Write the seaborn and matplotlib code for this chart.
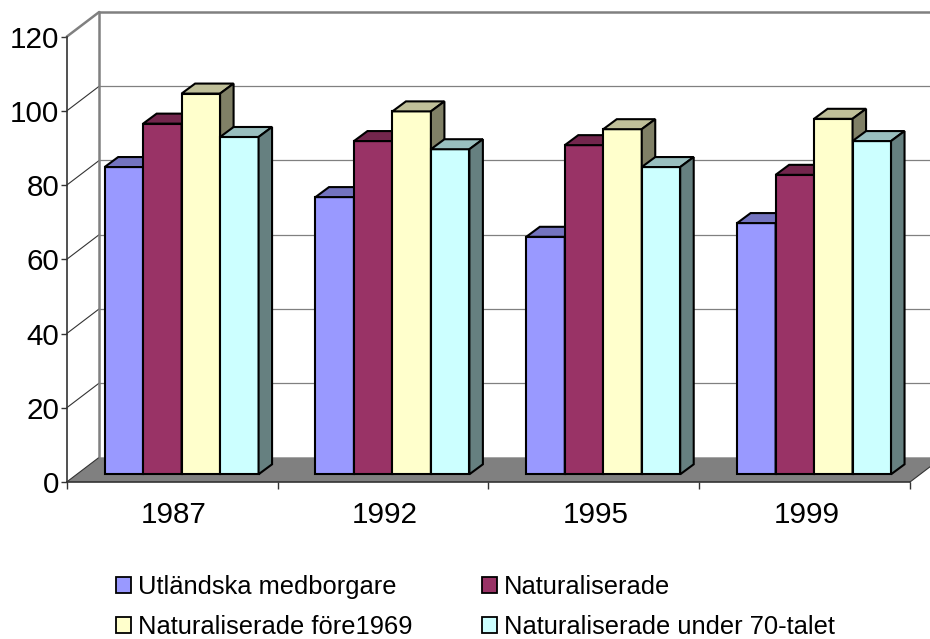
import pandas as pd
import matplotlib.pyplot as plt
import seaborn as sns
from matplotlib.patches import Patch, Polygon
from matplotlib.transforms import Affine2D, IdentityTransform
from matplotlib.lines import Line2D

# Data
years = ['1987', '1992', '1995', '1999']
utlandska = [82.8, 74.7, 64, 67.7]
naturaliserade = [94.5, 89.8, 88.7, 80.7]
fore_1969 = [102.6, 97.8, 93, 95.8]
under_70 = [90.9, 87.6, 82.8, 89.8]
series_names = ['Utländska medborgare', 'Naturaliserade',
                'Naturaliserade före1969', 'Naturaliserade under 70-talet']
y_ticks = [0, 20, 40, 60, 80, 100, 120]
colors = ['#9999FF', '#993366', '#FFFFCC', '#CCFFFF']

rows = []
for name, values in zip(series_names, [utlandska, naturaliserade, fore_1969, under_70]):
    for year, value in zip(years, values):
        rows.append({'year': year, 'series': name, 'value': value})
data = pd.DataFrame(rows)

sns.set_style('white')
plt.rcParams['font.family'] = ['Liberation Sans', 'DejaVu Sans']

W, H = 930, 639
fig = plt.figure(figsize=(W / 100, H / 100), dpi=100)
ax = fig.add_axes([66.7 / W, (H - 482) / H, (910 - 66.7) / W, 445.3 / H])

edge_lw = 1.5
sns.barplot(data=data, x='year', y='value', hue='series', order=years,
            hue_order=series_names, palette=colors, saturation=1, width=0.73,
            gap=0, edgecolor='black', linewidth=edge_lw, legend=False, ax=ax)
ax.set_xlim(-0.5, 3.5)
ax.set_ylim(0, 120)
ax.set_xlabel('')
ax.set_ylabel('')

# the bars seaborn drew, left to right
bars = sorted([p for c in ax.containers for p in c], key=lambda p: p.get_x())

# Pseudo 3D box: back wall, floor and left wall, in pixels offset from the front plane
wall_dx, wall_dy = 32.5, 24.7
to_px = ax.transData.transform
x0, x1 = -0.5, 3.5
grey = '#808080'
dark = '#333333'
px = IdentityTransform()


def wall_line(p, q, color, lw):
    ax.add_line(Line2D([p[0], q[0]], [p[1], q[1]], color=color, lw=lw,
                       transform=px, clip_on=False, zorder=0.6))


floor = [to_px((x0, 0)), to_px((x1, 0)),
         to_px((x1, 0)) + (wall_dx, wall_dy), to_px((x0, 0)) + (wall_dx, wall_dy)]
ax.add_patch(Polygon(floor, closed=True, facecolor=grey, edgecolor='none',
                     transform=px, clip_on=False, zorder=0.5))

for t in y_ticks:
    start = to_px((x0, t))
    back = start + (wall_dx, wall_dy)
    end = to_px((x1, t)) + (wall_dx, wall_dy)
    is_top = t == 120
    if t > 0:
        wall_line(back, end, grey, 1.8 if is_top else 0.9)
    wall_line(start, back, grey if is_top else dark, 1.8 if is_top else 0.8)

wall_line(to_px((x0, 0)) + (wall_dx, wall_dy), to_px((x0, 120)) + (wall_dx, wall_dy), grey, 1.8)
wall_line(to_px((x1, 0)), to_px((x1, 0)) + (wall_dx, wall_dy), dark, 0.8)


def shade(color, factor):
    r, g, b = plt.matplotlib.colors.to_rgb(color)
    return (r * factor, g * factor, b * factor)


# Bars stand a little inside the floor; add top and side faces
shift_x, shift_y = 9.5, 7.7
depth_x, depth_y = 13.5, 10
bar_shift = Affine2D().translate(shift_x, shift_y)

for i, bar in enumerate(bars):
    z = 3 + i * 0.01
    face = bar.get_facecolor()
    bar.set_transform(ax.transData + bar_shift)
    bar.set_clip_on(False)
    bar.set_zorder(z)
    br = to_px((bar.get_x() + bar.get_width(), 0)) + (shift_x, shift_y)
    tl = to_px((bar.get_x(), bar.get_height())) + (shift_x, shift_y)
    tr = to_px((bar.get_x() + bar.get_width(), bar.get_height())) + (shift_x, shift_y)
    d = (depth_x, depth_y)
    ax.add_patch(Polygon([tl, tr, tr + d, tl + d], closed=True, facecolor=shade(face, 0.75),
                         edgecolor='black', linewidth=edge_lw, transform=px,
                         clip_on=False, zorder=z))
    ax.add_patch(Polygon([br, tr, tr + d, br + d], closed=True, facecolor=shade(face, 0.5),
                         edgecolor='black', linewidth=edge_lw, transform=px,
                         clip_on=False, zorder=z))

# Axes and ticks
sns.despine(ax=ax)
for side in ['left', 'bottom']:
    ax.spines[side].set_color(dark)
    ax.spines[side].set_linewidth(1.2)
    ax.spines[side].set_zorder(1)
ax.set_yticks(y_ticks)
ax.set_xticks([-0.5, 0.5, 1.5, 2.5, 3.5], minor=False, labels=['', '', '', '', ''])
ax.tick_params(axis='y', left=True, length=4, width=1.0, color=dark, labelsize=21.3,
               pad=1.5, labelcolor='black')
ax.tick_params(axis='x', bottom=True, length=5, width=1.0, color=dark)
for i, year in enumerate(years):
    ax.annotate(year, xy=(i, 0), xytext=(2, -33), textcoords='offset pixels', ha='center',
                va='center', fontsize=21.3, color='black', annotation_clip=False)

# Legend, read row by row in the picture
handles = [Patch(facecolor=c, edgecolor='black', linewidth=1.3) for c in colors]
order = [0, 2, 1, 3]
fig.legend([handles[i] for i in order], [series_names[i] for i in order], ncol=2,
           loc='lower left', bbox_to_anchor=(93 / W, (H - 662) / H),
           bbox_transform=fig.transFigure, frameon=False, fontsize=18.4,
           labelcolor='black', handlelength=0.58, handleheight=0.58, handletextpad=0.27,
           columnspacing=2.73, labelspacing=0.63)

plt.savefig('out.png', dpi=100)
